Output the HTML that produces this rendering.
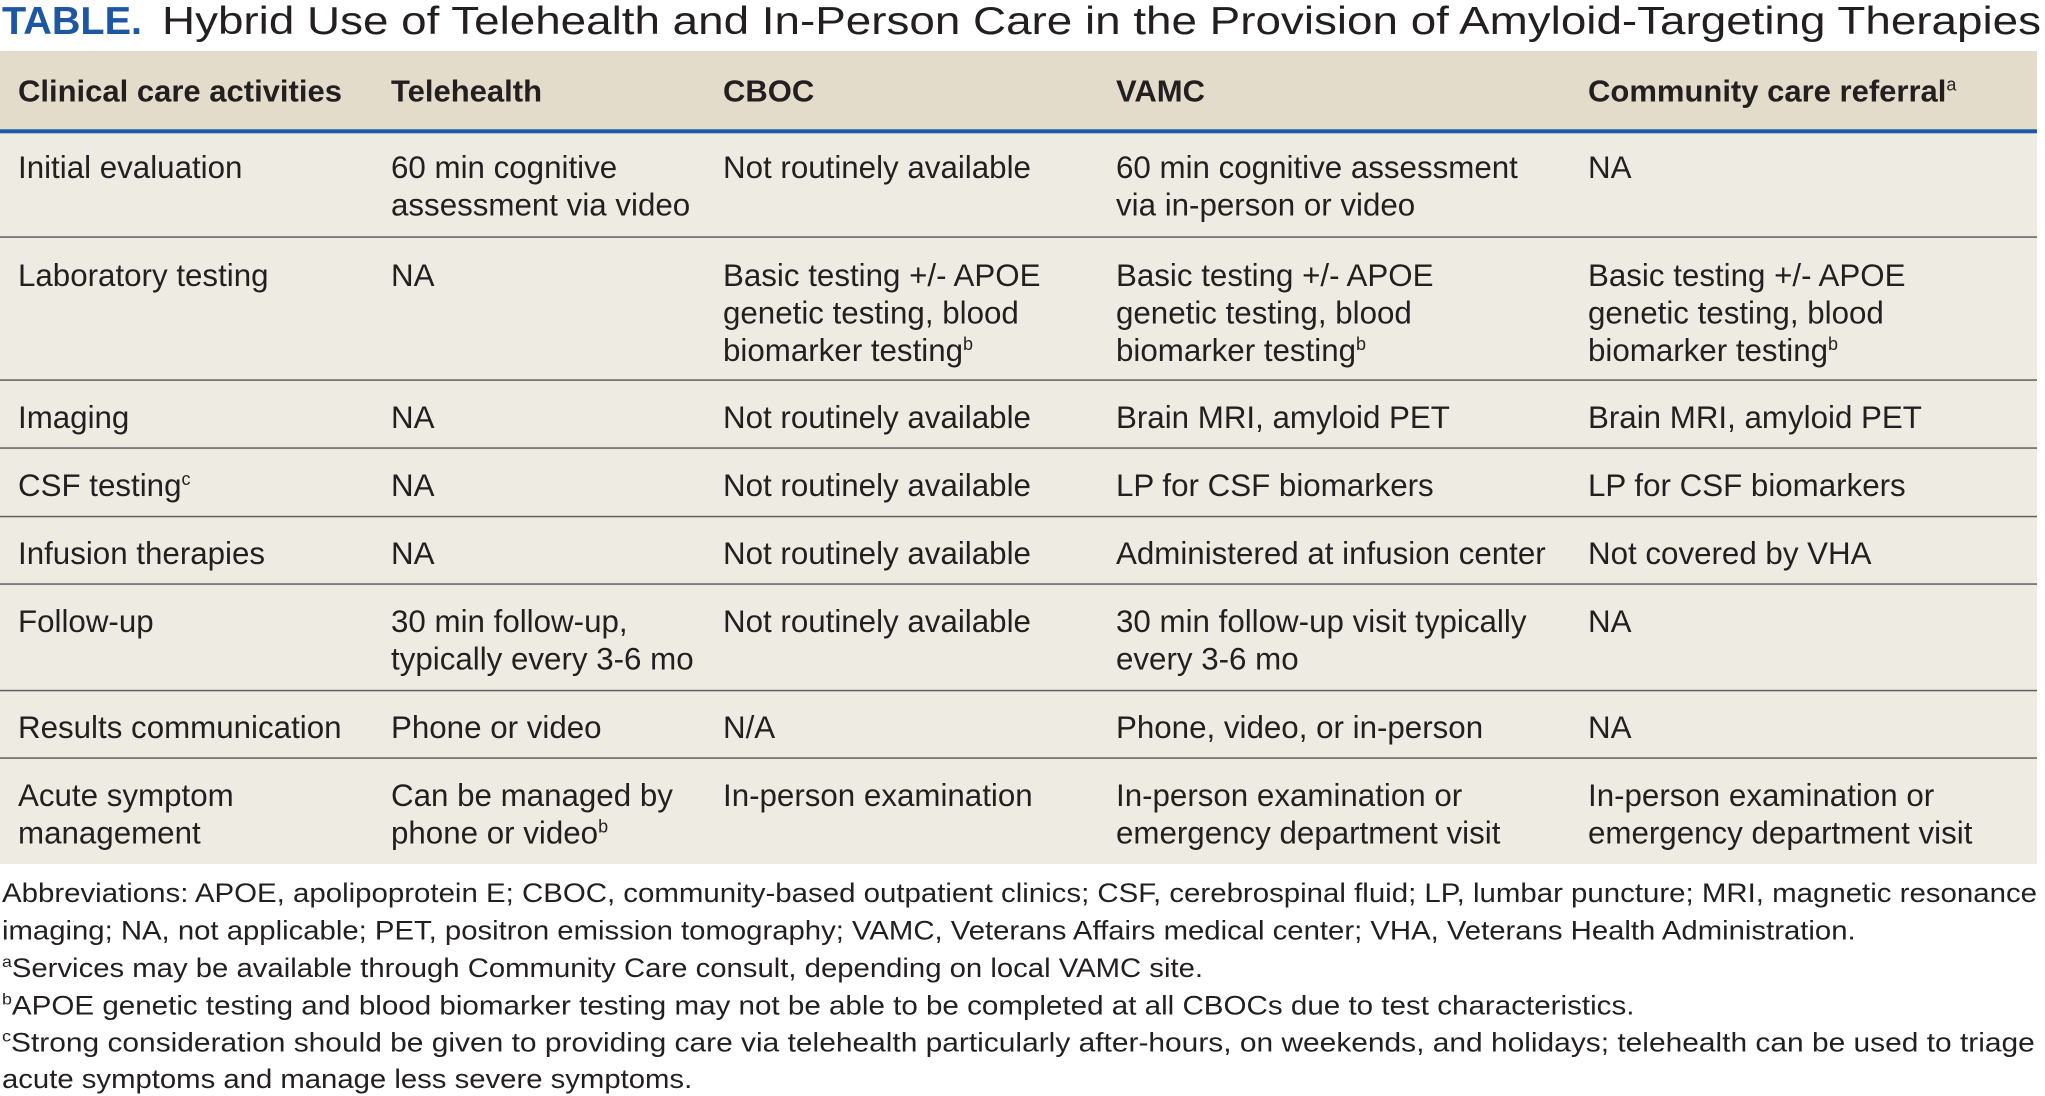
<!DOCTYPE html>
<html>
<head>
<meta charset="utf-8">
<style>
html,body{margin:0;padding:0;background:#ffffff;}
svg{display:block;}
</style>
</head>
<body>
<svg xmlns="http://www.w3.org/2000/svg" width="2045" height="1096" viewBox="0 0 2045 1096" font-family="'Liberation Sans', Arial, sans-serif">
  <rect x="0" y="0" width="2045" height="1096" fill="#ffffff"/>

  <!-- Title -->
  <text x="2" y="34" font-size="39" font-weight="bold" fill="#1d56a3" textLength="140" lengthAdjust="spacingAndGlyphs">TABLE.</text>
  <text x="162" y="34" font-size="39" fill="#231f20" textLength="1879" lengthAdjust="spacingAndGlyphs">Hybrid Use of Telehealth and In-Person Care in the Provision of Amyloid-Targeting Therapies</text>

  <!-- Table backgrounds -->
  <rect x="0" y="51" width="2037" height="79" fill="#e3dcca"/>
  <rect x="0" y="133" width="2037" height="731" fill="#eeebe2"/>
  <rect x="0" y="129.3" width="2037" height="4" fill="#1d5aa6"/>

  <!-- Row lines -->
  <g fill="#5f5f5f">
    <rect x="0" y="236.3" width="2037" height="1.5"/>
    <rect x="0" y="379.3" width="2037" height="1.5"/>
    <rect x="0" y="447.3" width="2037" height="1.5"/>
    <rect x="0" y="515.8" width="2037" height="1.5"/>
    <rect x="0" y="583.3" width="2037" height="1.5"/>
    <rect x="0" y="689.8" width="2037" height="1.5"/>
    <rect x="0" y="757.3" width="2037" height="1.5"/>
  </g>

  <!-- Header -->
  <g font-size="31" font-weight="bold" fill="#231f20">
    <text x="18" y="101.5">Clinical care activities</text>
    <text x="391" y="101.5">Telehealth</text>
    <text x="723" y="101.5">CBOC</text>
    <text x="1116" y="101.5">VAMC</text>
    <text x="1588" y="101.5">Community care referral<tspan font-size="18" font-weight="normal" dy="-11">a</tspan></text>
  </g>

  <!-- Body -->
  <g font-size="31.3" fill="#231f20">
    <!-- Row 1 -->
    <text x="18" y="178">Initial evaluation</text>
    <text x="391" y="178">60 min cognitive</text>
    <text x="391" y="215.5">assessment via video</text>
    <text x="723" y="178">Not routinely available</text>
    <text x="1116" y="178">60 min cognitive assessment</text>
    <text x="1116" y="215.5">via in-person or video</text>
    <text x="1588" y="178">NA</text>

    <!-- Row 2 -->
    <text x="18" y="286">Laboratory testing</text>
    <text x="391" y="286">NA</text>
    <text x="723" y="286">Basic testing +/- APOE</text>
    <text x="723" y="323.5">genetic testing, blood</text>
    <text x="723" y="361">biomarker testing<tspan font-size="18" dy="-11">b</tspan></text>
    <text x="1116" y="286">Basic testing +/- APOE</text>
    <text x="1116" y="323.5">genetic testing, blood</text>
    <text x="1116" y="361">biomarker testing<tspan font-size="18" dy="-11">b</tspan></text>
    <text x="1588" y="286">Basic testing +/- APOE</text>
    <text x="1588" y="323.5">genetic testing, blood</text>
    <text x="1588" y="361">biomarker testing<tspan font-size="18" dy="-11">b</tspan></text>

    <!-- Row 3 -->
    <text x="18" y="428">Imaging</text>
    <text x="391" y="428">NA</text>
    <text x="723" y="428">Not routinely available</text>
    <text x="1116" y="428">Brain MRI, amyloid PET</text>
    <text x="1588" y="428">Brain MRI, amyloid PET</text>

    <!-- Row 4 -->
    <text x="18" y="496">CSF testing<tspan font-size="18" dy="-11">c</tspan></text>
    <text x="391" y="496">NA</text>
    <text x="723" y="496">Not routinely available</text>
    <text x="1116" y="496">LP for CSF biomarkers</text>
    <text x="1588" y="496">LP for CSF biomarkers</text>

    <!-- Row 5 -->
    <text x="18" y="564">Infusion therapies</text>
    <text x="391" y="564">NA</text>
    <text x="723" y="564">Not routinely available</text>
    <text x="1116" y="564">Administered at infusion center</text>
    <text x="1588" y="564">Not covered by VHA</text>

    <!-- Row 6 -->
    <text x="18" y="632">Follow-up</text>
    <text x="391" y="632">30 min follow-up,</text>
    <text x="391" y="669.5">typically every 3-6 mo</text>
    <text x="723" y="632">Not routinely available</text>
    <text x="1116" y="632">30 min follow-up visit typically</text>
    <text x="1116" y="669.5">every 3-6 mo</text>
    <text x="1588" y="632">NA</text>

    <!-- Row 7 -->
    <text x="18" y="738">Results communication</text>
    <text x="391" y="738">Phone or video</text>
    <text x="723" y="738">N/A</text>
    <text x="1116" y="738">Phone, video, or in-person</text>
    <text x="1588" y="738">NA</text>

    <!-- Row 8 -->
    <text x="18" y="806">Acute symptom</text>
    <text x="18" y="843.5">management</text>
    <text x="391" y="806">Can be managed by</text>
    <text x="391" y="843.5">phone or video<tspan font-size="18" dy="-11">b</tspan></text>
    <text x="723" y="806">In-person examination</text>
    <text x="1116" y="806">In-person examination or</text>
    <text x="1116" y="843.5">emergency department visit</text>
    <text x="1588" y="806">In-person examination or</text>
    <text x="1588" y="843.5">emergency department visit</text>
  </g>

  <!-- Footnotes -->
  <g transform="scale(1.106,1)" font-size="26.5" fill="#231f20">
    <text x="1.8" y="902" textLength="1840" lengthAdjust="spacingAndGlyphs">Abbreviations: APOE, apolipoprotein E; CBOC, community-based outpatient clinics; CSF, cerebrospinal fluid; LP, lumbar puncture; MRI, magnetic resonance</text>
    <text x="1.8" y="939.5" textLength="1676" lengthAdjust="spacingAndGlyphs">imaging; NA, not applicable; PET, positron emission tomography; VAMC, Veterans Affairs medical center; VHA, Veterans Health Administration.</text>
    <text x="1.8" y="977"><tspan font-size="16" dy="-10">a</tspan><tspan dy="10">Services may be available through Community Care consult, depending on local VAMC site.</tspan></text>
    <text x="1.8" y="1014.5" textLength="1476" lengthAdjust="spacingAndGlyphs"><tspan font-size="16" dy="-10">b</tspan><tspan dy="10">APOE genetic testing and blood biomarker testing may not be able to be completed at all CBOCs due to test characteristics.</tspan></text>
    <text x="1.8" y="1051.5" textLength="1838" lengthAdjust="spacingAndGlyphs"><tspan font-size="16" dy="-10">c</tspan><tspan dy="10">Strong consideration should be given to providing care via telehealth particularly after-hours, on weekends, and holidays; telehealth can be used to triage</tspan></text>
    <text x="1.8" y="1088">acute symptoms and manage less severe symptoms.</text>
  </g>
</svg>
</body>
</html>
